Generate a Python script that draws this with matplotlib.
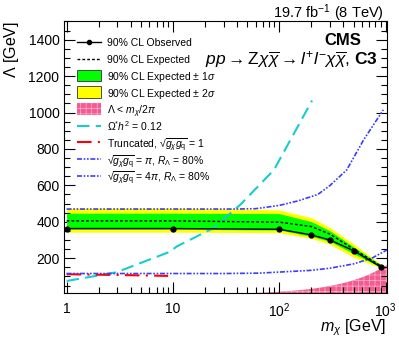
import numpy as np
import matplotlib
matplotlib.use('Agg')
import matplotlib.pyplot as plt
from matplotlib.patches import Rectangle
from matplotlib.lines import Line2D
from matplotlib.ticker import FixedLocator, MultipleLocator, NullFormatter

plt.rcParams['font.family'] = ['Liberation Sans', 'DejaVu Sans']
plt.rcParams['mathtext.fontset'] = 'custom'
plt.rcParams['mathtext.rm'] = 'Liberation Sans'
plt.rcParams['mathtext.it'] = 'Liberation Sans:italic'
plt.rcParams['mathtext.bf'] = 'Liberation Sans:bold'
plt.rcParams['hatch.linewidth'] = 0.5

# limits vs dark matter mass
m_lim = [1, 10, 100, 200, 300, 500, 900]
obs = [363, 363, 359, 328, 300, 241, 152]
exp = [405, 405, 398, 374, 332, 250, 158]
exp_p1 = [447, 447, 445, 401, 350, 262, 163]
exp_m1 = [359, 359, 355, 320, 292, 225, 150]
exp_p2 = [475, 475, 465, 423, 368, 278, 168]
exp_m2 = [343, 343, 340, 309, 276, 205, 145]

# relic density curve
m_relic = [1, 2.95, 9.4, 10.8, 23.9, 42.8, 89, 203]
relic = [75, 123, 236, 264, 365, 493, 685, 1066]

# truncated, sqrt(g g) = 1
m_trunc = [1, 3, 9]
trunc = [112, 108, 103]

# sqrt(g g) = pi, R = 80%
m_pi = [1, 10, 30, 64, 194, 298, 500, 740, 1030]
r_pi = [116, 116, 116, 118, 133, 145, 169, 200, 246]

# sqrt(g g) = 4 pi, R = 80%
m_4pi = [1, 10, 40, 60, 100, 150, 230, 300, 430, 620, 950]
r_4pi = [470, 470, 470, 472, 490, 515, 550, 600, 685, 850, 1015]

# Lambda < m/2pi region
m_excl = np.logspace(0, np.log10(1020), 200)

green = '#00ff00'
yellow = '#ffff00'
pink = '#f45c91'
pink_hatch = '#ffb3cf'
cyan = '#19cccc'
red = '#ff0000'
blue = '#3c3cff'
dash_exp = (0, (2, 1.5))
dash_relic = (0, (6, 3))
dash_trunc = (0, (7, 3, 1, 3))
dash_blue = (0, (3, 1, 1, 1, 1, 1))

fig = plt.figure(figsize=(3.99, 3.37), dpi=100)
ax = fig.add_axes([0.161, 0.13, 0.808, 0.809])

ax.fill_between(m_lim, exp_m2, exp_p2, color=yellow, lw=0, zorder=1)
ax.fill_between(m_lim, exp_m1, exp_p1, color=green, lw=0, zorder=2)
ax.plot(m_lim, exp, color='black', ls=dash_exp, lw=1.0, zorder=4)
ax.plot(m_lim, obs, color='black', lw=1.0, marker='o', ms=3.5, zorder=5)

ax.fill_between(m_excl, 0, m_excl / (2 * np.pi), facecolor=pink,
                edgecolor=pink_hatch, hatch='+++', lw=0, zorder=1)

ax.plot(m_relic, relic, color=cyan, ls=dash_relic, lw=1.5, zorder=3)
ax.plot(m_trunc, trunc, color=red, ls=dash_trunc, lw=1.5, zorder=3)
ax.plot(m_pi, r_pi, color=blue, ls=dash_blue, lw=1.2, zorder=3)
ax.plot(m_4pi, r_4pi, color=blue, ls=dash_blue, lw=1.2, zorder=3)

ax.set_xscale('log')
ax.set_xlim(0.95, 1020)
ax.set_ylim(8, 1505)

ax.xaxis.set_major_locator(FixedLocator([1, 10, 100, 1000]))
ax.set_xticklabels(['1', '10', r'$10^{2}$', r'$10^{3}$'])
ax.xaxis.set_minor_formatter(NullFormatter())
ax.yaxis.set_major_locator(MultipleLocator(200))
ax.yaxis.set_minor_locator(MultipleLocator(50))
ax.tick_params(which='both', direction='in', top=True, right=True, labelsize=10)
ax.tick_params(which='major', length=8, width=0.8)
ax.tick_params(which='minor', length=4, width=0.8)
ax.tick_params(axis='x', pad=6)

ax.set_xlabel(r'$m_{\chi}$ [GeV]', fontsize=11.5, loc='right')
ax.xaxis.set_label_coords(1.0, -0.087)
ax.set_ylabel(r'$\Lambda$ [GeV]', fontsize=11.5, loc='top')
ax.yaxis.set_label_coords(-0.133, 1.0)

fig.text(0.962, 1 - 17.5 / 337, r'19.7 fb$^{-1}$ (8 TeV)', ha='right', va='baseline', fontsize=10.5)
ax.text(0.92, 0.91, 'CMS', transform=ax.transAxes, ha='right', va='baseline',
        fontsize=12, fontweight='bold')
ax.text(0.973, 0.837, r'$pp \rightarrow \mathrm{Z}\chi\overline{\chi} \rightarrow l^{+}l^{-}\chi\overline{\chi}$, $\mathbf{C3}$',
        transform=ax.transAxes, ha='right', va='baseline', fontsize=12.5)

# legend drawn row by row so the spacing stays even
root = '\u221a' + r'$\overline{g_{\chi}g_{\mathrm{q}}}$'
labels = [
    '90% CL Observed',
    '90% CL Expected',
    r'90% CL Expected $\pm$ 1$\sigma$',
    r'90% CL Expected $\pm$ 2$\sigma$',
    r'$\mathit{\Lambda}$ < $m_{\chi}/2\pi$',
    r'$\Omega^{*}h^{2}$ = 0.12',
    'Truncated, ' + root + ' = 1',
    root + r' = $\pi$, $R_{\Lambda}$ = 80%',
    root + r' = 4$\pi$, $R_{\Lambda}$ = 80%',
]
styles = [
    ('line', dict(color='black', lw=1.0, marker='o', ms=3, markevery=[1])),
    ('line', dict(color='black', ls=dash_exp, lw=1.0)),
    ('box', dict(facecolor=green, edgecolor='#333333', lw=0.6)),
    ('box', dict(facecolor=yellow, edgecolor='#333333', lw=0.6)),
    ('box', dict(facecolor=pink, edgecolor=pink_hatch, hatch='+++', lw=0)),
    ('line', dict(color=cyan, ls=dash_relic, lw=1.5)),
    ('line', dict(color=red, ls=dash_trunc, lw=1.5)),
    ('line', dict(color=blue, ls=dash_blue, lw=1.2)),
    ('line', dict(color=blue, ls=dash_blue, lw=1.2)),
]
x0, x1, xt = 0.039, 0.114, 0.132
row_top, row_step, box_h = 0.921, 0.0612, 0.042
for i, (label, (kind, kw)) in enumerate(zip(labels, styles)):
    yc = row_top - i * row_step
    if kind == 'line':
        ax.add_line(Line2D([x0, (x0 + x1) / 2, x1], [yc, yc, yc], transform=ax.transAxes,
                           clip_on=False, zorder=6, **kw))
    else:
        ax.add_patch(Rectangle((x0, yc - box_h / 2), x1 - x0, box_h, transform=ax.transAxes,
                               clip_on=False, zorder=6, **kw))
    ax.text(xt, yc, label, transform=ax.transAxes, ha='left', va='center_baseline',
            fontsize=7.5, zorder=6)

fig.savefig('out.png', dpi=100)
